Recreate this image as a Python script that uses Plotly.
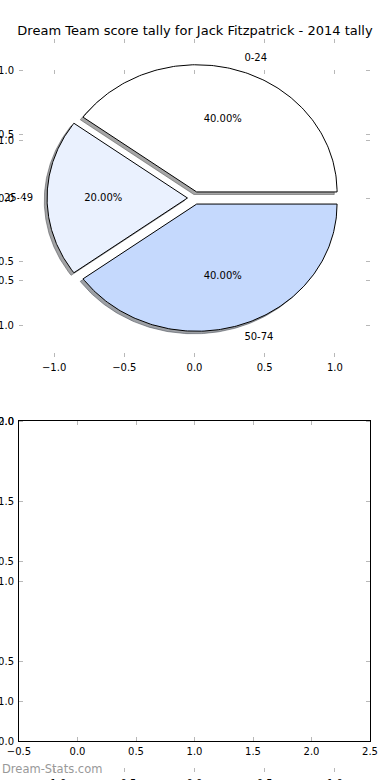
import numpy as np
import plotly.graph_objects as go

# ---- data ----
categories = ["0-24", "25-49", "50-74"]
counts = [2, 1, 2]
title_text = "Dream Team score tally for Jack Fitzpatrick - 2014 tally"
watermark = "Dream-Stats.com"
pie_ticks = [-1.0, -0.5, 0.0, 0.5, 1.0]
box_xticks = [-0.5, 0.0, 0.5, 1.0, 1.5, 2.0, 2.5]
box_yticks = [0.0, 0.5, 1.0, 1.5, 2.0]

# ---- style ----
wedge_colors = ["#ffffff", "#eaf1fe", "#c5d9fd"]
EXPLODE = 0.05
R = 1.0
LABEL_D = 1.1
PCT_D = 0.6
SH = -0.02
FONT = "DejaVu Sans"
W, H = 390, 780


def xdom(l, r):
    return [l / W, r / W]


def ydom(top, bottom):
    return [1 - bottom / H, 1 - top / H]


def axis(domain, rng, tickvals, linecolor, anchor, standoff=2):
    return dict(domain=domain, range=rng, tickvals=tickvals, tickformat=".1f",
                ticks="inside", ticklen=4, tickwidth=1, tickcolor="#b8b8b8",
                showline=True, linecolor=linecolor, linewidth=1, mirror="ticks",
                showgrid=False, zeroline=False, fixedrange=True, anchor=anchor,
                automargin=False, ticklabelstandoff=standoff,
                tickfont=dict(family=FONT, size=10, color="black"))


fig = go.Figure()

total = float(sum(counts))
theta = 0.0
wedges = []
for cat, val, col in zip(categories, counts, wedge_colors):
    frac = val / total
    t1, t2 = theta, theta + 360.0 * frac
    theta = t2
    mid = np.radians((t1 + t2) / 2)
    cx, cy = EXPLODE * np.cos(mid), EXPLODE * np.sin(mid)
    ang = np.radians(np.linspace(t1, t2, 150))
    xs = np.concatenate([[cx], cx + R * np.cos(ang), [cx]])
    ys = np.concatenate([[cy], cy + R * np.sin(ang), [cy]])
    wedges.append((cat, frac, col, mid, cx, cy, xs, ys))

# shadows first
for cat, frac, col, mid, cx, cy, xs, ys in wedges:
    rgb = [int(col[i:i + 2], 16) for i in (1, 3, 5)]
    sc = "rgba(%d,%d,%d,0.5)" % tuple(int(0.3 * c) for c in rgb)
    fig.add_trace(go.Scatter(x=xs + SH, y=ys + SH, mode="lines", fill="toself",
                             fillcolor=sc, line=dict(color=sc, width=1),
                             xaxis="x", yaxis="y", hoverinfo="skip", showlegend=False))

for cat, frac, col, mid, cx, cy, xs, ys in wedges:
    fig.add_trace(go.Scatter(x=xs, y=ys, mode="lines", fill="toself",
                             fillcolor=col, line=dict(color="black", width=1),
                             xaxis="x", yaxis="y", hoverinfo="skip", showlegend=False))
    lx = cx + LABEL_D * R * np.cos(mid)
    ly = cy + LABEL_D * R * np.sin(mid)
    fig.add_trace(go.Scatter(x=[lx], y=[ly], mode="text", text=[cat], cliponaxis=False,
                             textposition="middle right" if lx > 0 else "middle left",
                             textfont=dict(family=FONT, size=10, color="black"),
                             xaxis="x", yaxis="y", hoverinfo="skip", showlegend=False))
    px_ = cx + PCT_D * R * np.cos(mid)
    py_ = cy + PCT_D * R * np.sin(mid)
    fig.add_trace(go.Scatter(x=[px_], y=[py_], mode="text", text=["%.2f%%" % (frac * 100)],
                             textposition="middle center", cliponaxis=False,
                             textfont=dict(family=FONT, size=10, color="black"),
                             xaxis="x", yaxis="y", hoverinfo="skip", showlegend=False))

# empty traces to materialise the other axes
fig.add_trace(go.Scatter(x=[], y=[], xaxis="x2", yaxis="y2", showlegend=False))
fig.add_trace(go.Scatter(x=[], y=[], xaxis="x3", yaxis="y3", showlegend=False))

XD = xdom(19, 370)
fig.update_layout(
    width=W, height=H, autosize=False,
    margin=dict(l=0, r=0, t=0, b=0, pad=0, autoexpand=False),
    paper_bgcolor="white", plot_bgcolor="rgba(0,0,0,0)",
    showlegend=False, hovermode=False,
    font=dict(family=FONT, size=10, color="black"),
    title=dict(text=title_text, x=0.5, xanchor="center", xref="paper",
               y=1 - 30 / H, yref="container", yanchor="middle",
               font=dict(family=FONT, size=13, color="black")),
    xaxis=axis(XD, [-1.25, 1.25], pie_ticks, "rgba(0,0,0,0)", "y", 1),
    yaxis=axis(ydom(39, 357), [-1.25, 1.25], pie_ticks, "rgba(0,0,0,0)", "x"),
    xaxis2=axis(XD, [-1.25, 1.25], pie_ticks, "rgba(0,0,0,0)", "y2", 2),
    yaxis2=axis(ydom(70, 772), [-1.25, 1.25], pie_ticks, "rgba(0,0,0,0)", "x2"),
    xaxis3=axis(XD, [-0.5, 2.5], box_xticks, "black", "y3", 1),
    yaxis3=axis(ydom(421, 741), [0, 2], box_yticks, "black", "x3"),
    annotations=[dict(text=watermark, x=0, xref="paper", xanchor="left",
                      y=1 - 769 / H, yref="paper", yanchor="middle", showarrow=False,
                      font=dict(family=FONT, size=11.5, color="#999999"))],
)

fig.write_html("out.html", config={"displayModeBar": False, "staticPlot": True},
               post_script="document.body.style.margin='0';")
